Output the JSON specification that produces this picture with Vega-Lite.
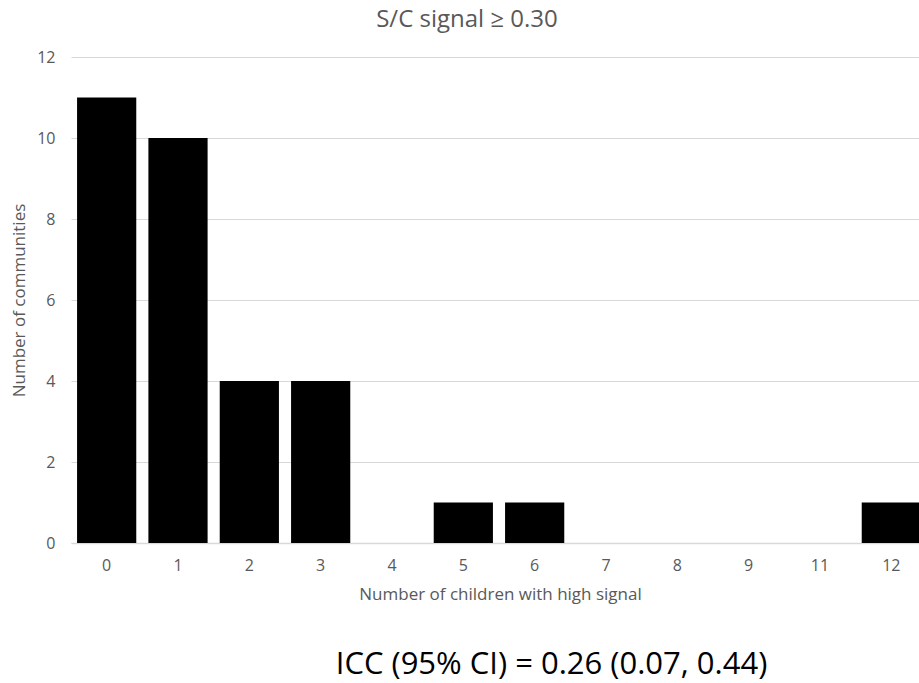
{
  "$schema": "https://vega.github.io/schema/vega-lite/v6.json",
  "autosize": {"type": "none"},
  "width": 848,
  "height": 486,
  "padding": {"left": 71, "top": 57, "right": 0, "bottom": 140},
  "background": "white",
  "config": {"font": "Open Sans", "view": {"stroke": null}},
  "title": {"text": "S/C signal ≥ 0.30", "fontSize": 24, "fontWeight": "normal", "color": "#595959", "anchor": "middle", "dx": -28, "offset": 17},
  "data": {"values": [
    {"children": "0", "communities": 11},
    {"children": "1", "communities": 10},
    {"children": "2", "communities": 4},
    {"children": "3", "communities": 4},
    {"children": "4", "communities": 0},
    {"children": "5", "communities": 1},
    {"children": "6", "communities": 1},
    {"children": "7", "communities": 0},
    {"children": "8", "communities": 0},
    {"children": "9", "communities": 0},
    {"children": "11", "communities": 0},
    {"children": "12", "communities": 1}
  ]},
  "encoding": {
    "x": {"field": "children", "type": "ordinal", "sort": null,
      "scale": {"range": [0, 856], "paddingInner": 0.17, "paddingOuter": 0.085}},
    "y": {"field": "communities", "type": "quantitative",
      "scale": {"domain": [0, 12], "nice": false},
      "axis": {"values": [0, 2, 4, 6, 8, 10, 12], "title": "Number of communities", "titleFontSize": 17, "titleFontWeight": "normal", "titleColor": "#595959", "titlePadding": 8, "labelFontSize": 16, "labelColor": "#595959", "labelPadding": 16, "ticks": false, "domain": false, "grid": true, "gridColor": "#d9d9d9", "gridWidth": 1}}
  },
  "layer": [
    {
      "mark": {"type": "bar", "color": "black"},
      "encoding": {
        "x": {"field": "children", "type": "ordinal", "sort": null,
          "axis": {"title": "Number of children with high signal", "titleFontSize": 17, "titleFontWeight": "normal", "titleColor": "#595959", "titleX": 429, "titleY": 56, "titleBaseline": "alphabetic", "labelFontSize": 16, "labelColor": "#595959", "labelAngle": 0, "labelPadding": 14, "ticks": false, "domain": true, "domainColor": "#d9d9d9", "domainWidth": 1.5, "grid": false}}
      }
    },
    {
      "mark": {"type": "bar", "opacity": 0},
      "encoding": {
        "x": {"field": "children", "type": "ordinal", "sort": null,
          "axis": {"orient": "bottom", "labels": false, "ticks": false, "domain": false, "grid": false, "title": "ICC (95% CI) = 0.26 (0.07, 0.44)", "titleFontSize": 31, "titleFontWeight": "normal", "titleColor": "black", "titleX": 480, "titleY": 130, "titleBaseline": "alphabetic", "titleAlign": "center"}}
      }
    }
  ],
  "resolve": {"axis": {"x": "independent"}}
}
